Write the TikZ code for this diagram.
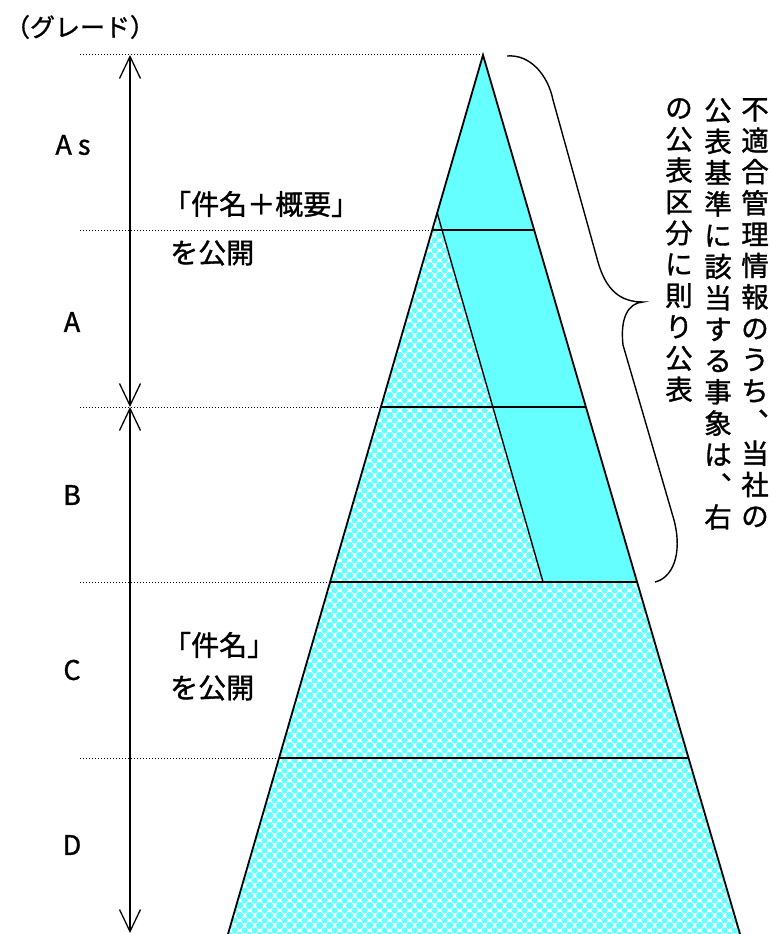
\documentclass[tikz,border=0pt]{standalone}
\usepackage{fontspec}
\setmainfont{Noto Sans CJK JP}[RawFeature={embolden=1.2}]
\usetikzlibrary{arrows.meta,patterns}
\definecolor{solidcyan}{RGB}{102,255,255}
\pgfdeclarepatternformonly{bubbles}{\pgfqpoint{0pt}{0pt}}{\pgfqpoint{10pt}{10pt}}{\pgfqpoint{10pt}{10pt}}{%
  \pgfpathcircle{\pgfqpoint{5pt}{5pt}}{3.3pt}
  \pgfpathcircle{\pgfqpoint{0pt}{0pt}}{3.3pt}
  \pgfpathcircle{\pgfqpoint{10pt}{0pt}}{3.3pt}
  \pgfpathcircle{\pgfqpoint{0pt}{10pt}}{3.3pt}
  \pgfpathcircle{\pgfqpoint{10pt}{10pt}}{3.3pt}
  \pgfusepath{fill}}
\tikzstyle{outline}=[draw,line width=1.8pt,line join=miter]
\tikzstyle{level}=[draw,line width=1.4pt]
\tikzstyle{guide}=[draw,line width=1pt,dash pattern=on 1.2pt off 1.8pt]
\tikzstyle{gradearrow}=[draw,line width=1.3pt,{Straight Barb[length=22pt,width=21pt]}-{Straight Barb[length=22pt,width=21pt]}]
\tikzstyle{brace}=[draw,line width=1.4pt]
\tikzstyle{gradelabel}=[font=\fontsize{27}{30}\selectfont,inner sep=0pt]
\tikzstyle{note}=[font=\fontsize{28}{30}\selectfont,inner sep=0pt,anchor=west]
\tikzstyle{vtext}=[font=\fontsize{27.5}{31.3}\selectfont,align=center,inner sep=0pt,anchor=north]

\begin{document}
\begin{tikzpicture}[x=1pt,y=-1pt]
\useasboundingbox (0,0) rectangle (771,934);

% pyramid
\coordinate (apex) at (483,55);
\coordinate (bl) at (228,934);
\coordinate (br) at (740,934);
\coordinate (innertop) at (437.2,213);
\coordinate (innerbot) at (543,582);
\coordinate (rb) at (637.1,582);

\fill[pattern=bubbles,pattern color=solidcyan] (apex) -- (bl) -- (br) -- cycle;
\fill[solidcyan] (apex) -- (innertop) -- (innerbot) -- (rb) -- cycle;

% levels
\coordinate (gtop) at (80,55);
\draw[guide] (gtop) -- (apex);
\foreach \y/\xl/\xr/\name in {230/432.2/534.2/as, 407/380.9/585.9/a, 582/330.1/637.1/b, 758/279.1/688.5/c}
{
  \coordinate (g\name) at (80,\y);
  \coordinate (l\name) at (\xl,\y);
  \coordinate (r\name) at (\xr,\y);
  \draw[guide] (g\name) -- (l\name);
  \path[level] (l\name) -- (r\name);
}
\path[outline] (bl) -- (apex) -- (br);
\path[level] (innertop) -- (innerbot);

% grade arrows
\coordinate (atop) at (130,55);
\coordinate (amid) at (130,407);
\coordinate (abot) at (130,933);
\path[gradearrow] (atop) -- (amid);
\path[gradearrow] (amid) -- (abot);

% brace
\coordinate (bracetop) at (507,56);
\coordinate (bracetip) at (643,302);
\coordinate (bracebot) at (655,582);
\path[brace] (bracetop) .. controls (530,54) and (548,75) .. (553,100) -- (598,262)
  .. controls (606,290) and (620,302) .. (bracetip)
  .. controls (628,303) and (620,318) .. (623,345) -- (674,520)
  .. controls (683,555) and (672,578) .. (bracebot);

% labels
\node[font=\fontsize{25}{27}\selectfont,inner sep=0pt] (grade) at (80,27) {（グレード）};
\node[gradelabel] (gas) at (73,145) {A s};
\node[gradelabel] (ga) at (72,322) {A};
\node[gradelabel] (gb) at (72,495) {B};
\node[gradelabel] (gc) at (72,670) {C};
\node[gradelabel] (gd) at (72,845) {D};

\node[note] (pub1) at (163,204) {「件名＋概要」};
\node[note] (pub1b) at (170,253) {を公開};
\node[note] (pub2) at (163,645) {「件名」};
\node[note] (pub2b) at (170,688) {を公開};

% vertical note
\node[vtext] (col1) at (755,98) {不\\適\\合\\管\\理\\情\\報\\の\\う\\ち\\︑\\当\\社\\の};
\node[vtext] (col2) at (718,98) {公\\表\\基\\準\\に\\該\\当\\す\\る\\事\\象\\は\\︑\\右};
\node[vtext] (col3) at (679,98) {の\\公\\表\\区\\分\\に\\則\\り\\公\\表};

\end{tikzpicture}
\end{document}
